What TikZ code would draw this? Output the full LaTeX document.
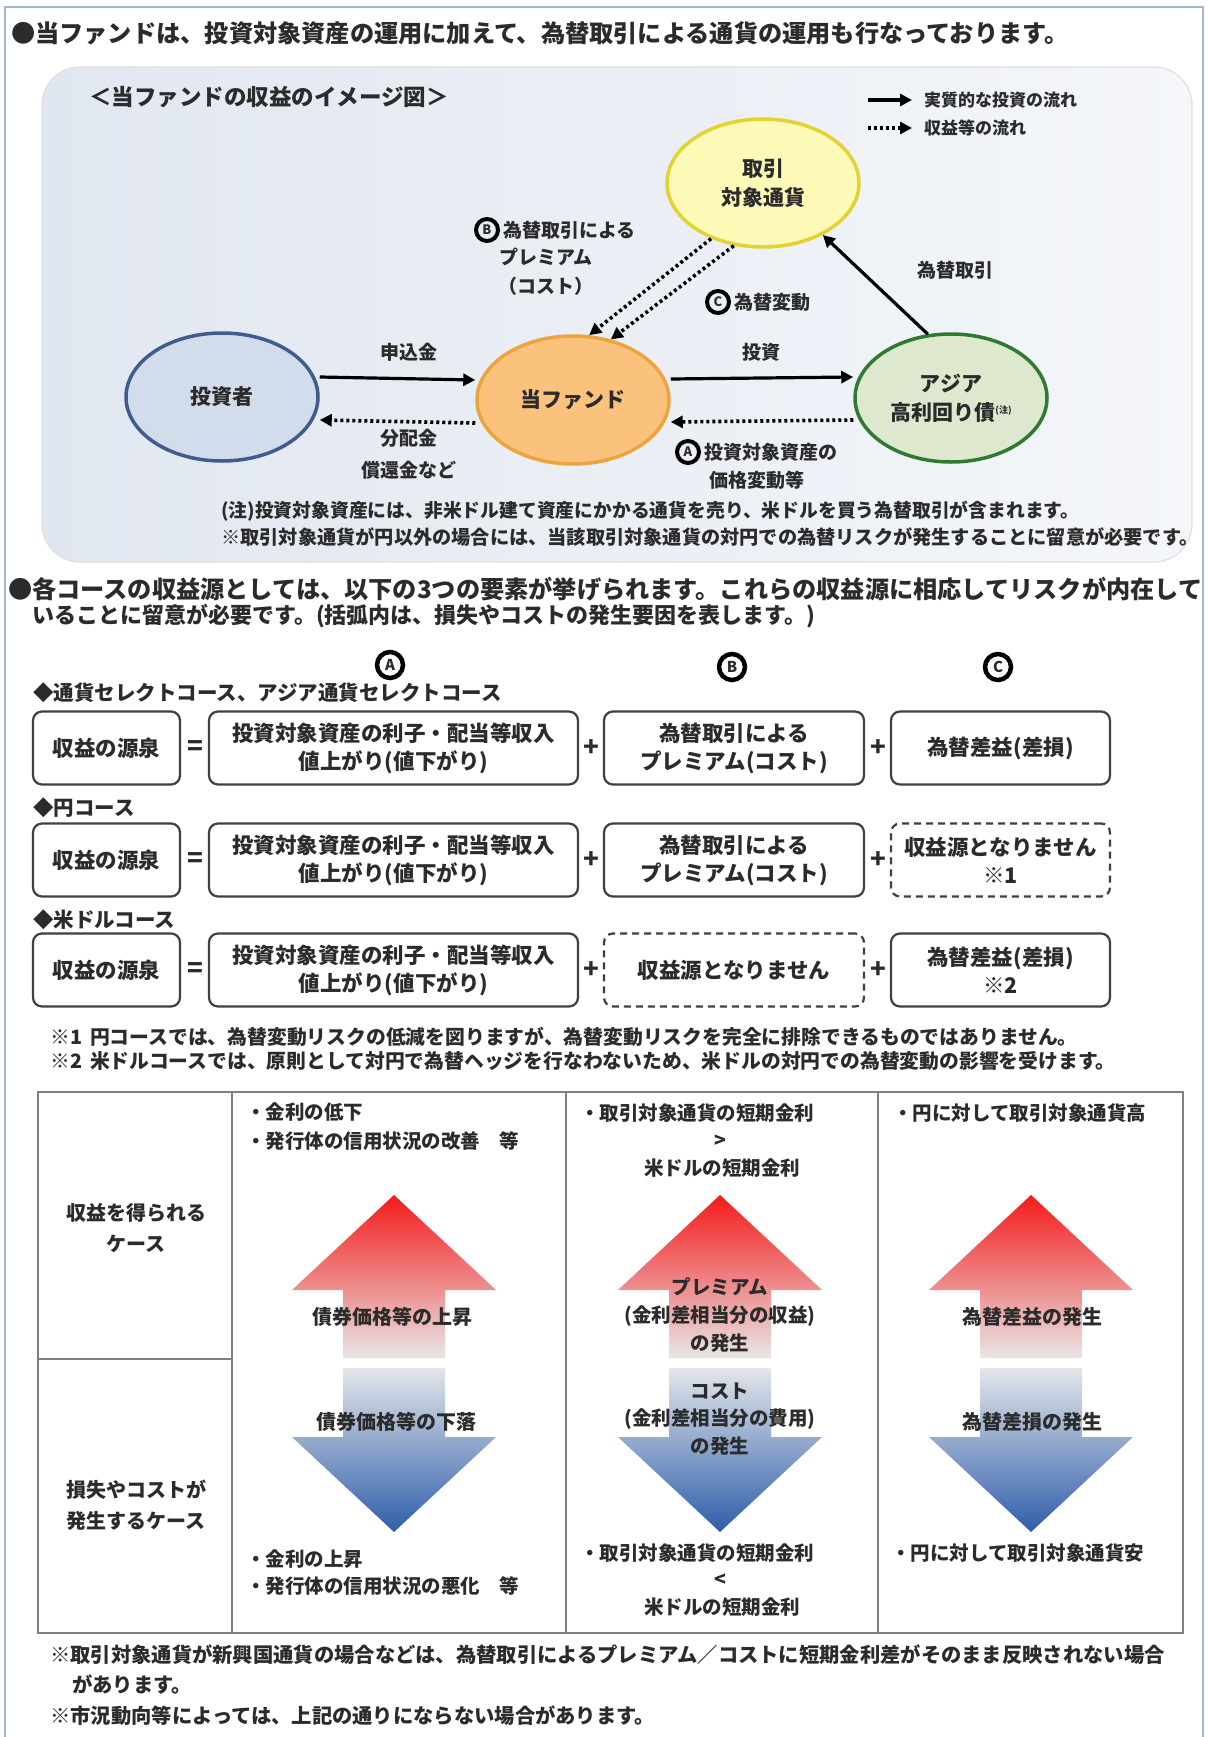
\documentclass[tikz,border=0pt]{standalone}
\usepackage{fontspec}
\setmainfont{Noto Sans CJK JP}
\usetikzlibrary{arrows.meta,shapes.geometric,positioning}

\definecolor{txt}{HTML}{2B2B2B}
\definecolor{frameblue}{HTML}{A3B5CC}
\definecolor{panelA}{HTML}{E1E7F0}
\definecolor{panelB}{HTML}{F4F6FA}
\definecolor{invfill}{HTML}{D3DCEB}
\definecolor{invline}{HTML}{3F5C8E}
\definecolor{fundfill}{HTML}{FAC27C}
\definecolor{fundline}{HTML}{EBA43E}
\definecolor{curfill}{HTML}{FDF9B6}
\definecolor{curline}{HTML}{E3D232}
\definecolor{bondfill}{HTML}{DEE8CE}
\definecolor{bondline}{HTML}{2E7A30}
\definecolor{upred}{HTML}{F51A1A}
\definecolor{uppink}{HTML}{F2B0B2}
\definecolor{upgray}{HTML}{E8E6E6}
\definecolor{dngray}{HTML}{E3E6EA}
\definecolor{dnmid}{HTML}{B9C3D8}
\definecolor{dnblue}{HTML}{2F5DA9}

\newcommand{\fsz}[2]{\fontsize{#1}{#2}\selectfont\bfseries}

\tikzset{
  party/.style={ellipse, minimum width=192pt, minimum height=128pt, inner sep=0pt,
    line width=3.5pt, align=center, font=\fsz{21}{29}},
  flow/.style={line width=3.2pt, -{Triangle[length=12pt,width=12pt]}},
  ret/.style={line width=3.6pt, dash pattern=on 3pt off 3pt, -{Triangle[length=12pt,width=12pt]}},
  lbl/.style={inner sep=0pt, align=center, font=\fsz{19}{29}},
  txtl/.style={inner sep=0pt, anchor=west, align=left},
  mk/.style={circle, draw=black, line width=4pt, minimum size=22pt, inner sep=0pt, font=\fsz{13}{13}},
  srcbox/.style={draw=black!75, rounded corners=9pt, line width=2.2pt, minimum height=73pt,
    inner sep=0pt, align=center, font=\fsz{21.5}{28}},
  nosrc/.style={srcbox, dash pattern=on 7pt off 5pt},
  opsign/.style={inner sep=0pt, font=\fsz{26}{26}},
  tbl/.style={draw=black!50, line width=1.6pt},
}

\begin{document}
\begin{tikzpicture}[x=1pt, y=-1pt, every node/.append style={text=txt}]
\useasboundingbox (0,0) rectangle (1208,1737);
\fill[white] (0,0) rectangle (1208,1737);
\draw[frameblue, line width=2.5pt] (5,1737) -- (5,7) -- (1203,7) -- (1203,1737);

% fund structure
\node[txtl, font=\fsz{24.2}{29}] (hd1) at (11,33) {●当ファンドは、投資対象資産の運用に加えて、為替取引による通貨の運用も行なっております。};

\shade[left color=panelA, right color=panelB, rounded corners=38pt] (42,67) rectangle (1192,562);
\draw[black!12, line width=1.2pt, rounded corners=38pt] (42,67) rectangle (1192,562);
\node[txtl, font=\fsz{22.5}{29}] (ttl) at (89,97) {＜当ファンドの収益のイメージ図＞};

\coordinate (lg1a) at (868,100);
\coordinate (lg1b) at (912,100);
\draw[flow] (lg1a) -- (lg1b);
\node[txtl, font=\fsz{17}{17}] (lg1) at (924,100) {実質的な投資の流れ};
\coordinate (lg2a) at (868,128);
\coordinate (lg2b) at (912,128);
\draw[ret] (lg2a) -- (lg2b);
\node[txtl, font=\fsz{17}{17}] (lg2) at (924,128) {収益等の流れ};

\node[party, draw=invline, fill=invfill] (inv) at (222,397) {投資者};
\node[party, draw=fundline, fill=fundfill] (fund) at (573,400) {当ファンド};
\node[party, draw=curline, fill=curfill] (cur) at (763,183) {取引\\対象通貨};
\node[party, draw=bondline, fill=bondfill] (bond) at (951,398) {アジア\\高利回り債\raisebox{7pt}{\fsz{9}{9}(注)}};

\draw[flow] ([yshift=20pt]inv.east) -- ([yshift=20pt]fund.west);
\draw[ret] ([yshift=-23pt]fund.west) -- ([yshift=-23pt]inv.east);
\draw[flow] ([yshift=21pt]fund.east) -- ([yshift=21pt]bond.west);
\draw[ret] ([yshift=-22pt]bond.west) -- ([yshift=-22pt]fund.east);
\draw[flow] (bond.110) -- (cur.319);
\draw[ret] (cur.227) -- (fund.76);
\draw[ret] (cur.245) -- (fund.58);

\node[lbl] (lsub) at (409,352) {申込金};
\node[lbl, font=\fsz{19}{32}] (ldist) at (409,454) {分配金\\償還金など};
\node[lbl] (linv) at (761,352) {投資};
\node[mk] (mka) at (688,452) {A};
\node[lbl, right=3pt of mka] (lpa) {投資対象資産の};
\node[lbl] (lpa2) at (757,480) {価格変動等};
\node[lbl] (lfx) at (955,270) {為替取引};
\node[mk] (mkc) at (718,302) {C};
\node[lbl, right=3pt of mkc] (lpc) {為替変動};
\node[mk] (mkb) at (487,230) {B};
\node[lbl, right=3pt of mkb] (lpb) {為替取引による};
\node[lbl, font=\fsz{19}{29}] (lpb2) at (546,272) {プレミアム\\（コスト）};

\node[txtl, font=\fsz{18.8}{26}] (nt1) at (221,511) {(注)投資対象資産には、非米ドル建て資産にかかる通貨を売り、米ドルを買う為替取引が含まれます。};
\node[txtl, font=\fsz{19.2}{26}] (nt2) at (221,537) {※取引対象通貨が円以外の場合には、当該取引対象通貨の対円での為替リスクが発生することに留意が必要です。};

% sources of return
\node[txtl, font=\fsz{24.2}{29}] (hd2) at (8,589) {●各コースの収益源としては、以下の3つの要素が挙げられます。これらの収益源に相応してリスクが内在して};
\node[txtl, font=\fsz{22}{29}] (hd2b) at (32,616) {いることに留意が必要です。(括弧内は、損失やコストの発生要因を表します。)};

\node[mk, minimum size=26pt, line width=4.5pt, font=\fsz{15}{15}] (mA) at (390,665) {A};
\node[mk, minimum size=26pt, line width=4.5pt, font=\fsz{15}{15}] (mB) at (732,667) {B};
\node[mk, minimum size=26pt, line width=4.5pt, font=\fsz{15}{15}] (mC) at (998,667) {C};

\node[txtl, font=\fsz{20.5}{26}] (crs1) at (33,693) {◆通貨セレクトコース、アジア通貨セレクトコース};
\node[srcbox, minimum width=147pt] (src1) at (106.5,748) {収益の源泉};
\node[opsign] (eq1) at (195,748) {=};
\node[srcbox, minimum width=369pt] (a1) at (393.5,748) {投資対象資産の利子・配当等収入\\値上がり(値下がり)};
\node[opsign] (pa1) at (591,748) {+};
\node[srcbox, minimum width=260pt] (b1) at (734,748) {為替取引による\\プレミアム(コスト)};
\node[opsign] (pb1) at (878,748) {+};
\node[srcbox, minimum width=219pt] (c1) at (1000.5,748) {為替差益(差損)};

\node[txtl, font=\fsz{20.5}{26}] (crs2) at (33,808) {◆円コース};
\node[srcbox, minimum width=147pt] (src2) at (106.5,860) {収益の源泉};
\node[opsign] (eq2) at (195,860) {=};
\node[srcbox, minimum width=369pt] (a2) at (393.5,860) {投資対象資産の利子・配当等収入\\値上がり(値下がり)};
\node[opsign] (pa2) at (591,860) {+};
\node[srcbox, minimum width=260pt] (b2) at (734,860) {為替取引による\\プレミアム(コスト)};
\node[opsign] (pb2) at (878,860) {+};
\node[nosrc, minimum width=219pt] (c2) at (1000.5,860) {収益源となりません\\※1};

\node[txtl, font=\fsz{20.5}{26}] (crs3) at (33,920) {◆米ドルコース};
\node[srcbox, minimum width=147pt] (src3) at (106.5,970) {収益の源泉};
\node[opsign] (eq3) at (195,970) {=};
\node[srcbox, minimum width=369pt] (a3) at (393.5,970) {投資対象資産の利子・配当等収入\\値上がり(値下がり)};
\node[opsign] (pa3) at (591,970) {+};
\node[nosrc, minimum width=260pt] (b3) at (734,970) {収益源となりません};
\node[opsign] (pb3) at (878,970) {+};
\node[srcbox, minimum width=219pt] (c3) at (1000.5,970) {為替差益(差損)\\※2};

\node[txtl, font=\fsz{19.8}{26}] (fn1) at (50,1037) {※1\hspace{8pt}円コースでは、為替変動リスクの低減を図りますが、為替変動リスクを完全に排除できるものではありません。};
\node[txtl, font=\fsz{19.8}{26}] (fn2) at (50,1061) {※2\hspace{8pt}米ドルコースでは、原則として対円で為替ヘッジを行なわないため、米ドルの対円での為替変動の影響を受けます。};

% cases table
\draw[tbl] (38,1092) rectangle (1183,1633);
\draw[tbl] (232,1092) -- (232,1633);
\draw[tbl] (566,1092) -- (566,1633);
\draw[tbl] (878,1092) -- (878,1633);
\draw[tbl] (38,1359) -- (232,1359);

\node[lbl, font=\fsz{20}{31}] (gain) at (136,1228) {収益を得られる\\ケース};
\node[lbl, font=\fsz{20}{31}] (loss) at (136,1505) {損失やコストが\\発生するケース};

\shade[top color=upred, middle color=uppink, bottom color=upgray] (394,1195) -- (496,1290) -- (445,1290) -- (445,1358) -- (343,1358) -- (343,1290) -- (292,1290) -- cycle;
\shade[top color=dngray, middle color=dnmid, bottom color=dnblue] (343,1368) -- (445,1368) -- (445,1437) -- (496,1437) -- (394,1532) -- (292,1437) -- (343,1437) -- cycle;
\shade[top color=upred, middle color=uppink, bottom color=upgray] (720,1195) -- (822,1290) -- (771,1290) -- (771,1358) -- (669,1358) -- (669,1290) -- (618,1290) -- cycle;
\shade[top color=dngray, middle color=dnmid, bottom color=dnblue] (669,1368) -- (771,1368) -- (771,1437) -- (822,1437) -- (720,1532) -- (618,1437) -- (669,1437) -- cycle;
\shade[top color=upred, middle color=uppink, bottom color=upgray] (1031,1195) -- (1133,1290) -- (1082,1290) -- (1082,1358) -- (980,1358) -- (980,1290) -- (929,1290) -- cycle;
\shade[top color=dngray, middle color=dnmid, bottom color=dnblue] (980,1368) -- (1082,1368) -- (1082,1437) -- (1133,1437) -- (1031,1532) -- (929,1437) -- (980,1437) -- cycle;

\node[txtl, font=\fsz{19.5}{29}] (bond1) at (246,1127) {・金利の低下\\・発行体の信用状況の改善　等};
\node[lbl, font=\fsz{20}{20}] (bond2) at (392,1317) {債券価格等の上昇};
\node[lbl, font=\fsz{20}{20}] (bond3) at (396,1422) {債券価格等の下落};
\node[txtl, font=\fsz{19.5}{27}] (bond4) at (246,1573) {・金利の上昇\\・発行体の信用状況の悪化　等};

\node[lbl, font=\fsz{19.5}{19.5}] (rate1) at (697,1113) {・取引対象通貨の短期金利};
\node[lbl, font=\fsz{19.5}{19.5}] (rate2) at (720,1141) {>};
\node[lbl, font=\fsz{19.5}{19.5}] (rate3) at (722,1168) {米ドルの短期金利};
\node[lbl, font=\fsz{19.5}{28}] (prem) at (720,1315) {プレミアム\\(金利差相当分の収益)\\の発生};
\node[lbl, font=\fsz{19.5}{27.5}] (cost) at (720,1419) {コスト\\(金利差相当分の費用)\\の発生};
\node[lbl, font=\fsz{19.5}{19.5}] (rate4) at (697,1553) {・取引対象通貨の短期金利};
\node[lbl, font=\fsz{19.5}{19.5}] (rate5) at (720,1580) {<};
\node[lbl, font=\fsz{19.5}{19.5}] (rate6) at (722,1607) {米ドルの短期金利};

\node[txtl, font=\fsz{19.5}{19.5}] (fx1) at (893,1113) {・円に対して取引対象通貨高};
\node[lbl, font=\fsz{20}{20}] (fx2) at (1032,1317) {為替差益の発生};
\node[lbl, font=\fsz{20}{20}] (fx3) at (1032,1422) {為替差損の発生};
\node[txtl, font=\fsz{19.5}{19.5}] (fx4) at (891,1553) {・円に対して取引対象通貨安};

\node[txtl, font=\fsz{20.3}{26}] (bn1) at (50,1655) {※取引対象通貨が新興国通貨の場合などは、為替取引によるプレミアム／コストに短期金利差がそのまま反映されない場合};
\node[txtl, font=\fsz{20.3}{26}] (bn2) at (72,1684) {があります。};
\node[txtl, font=\fsz{20.3}{26}] (bn3) at (50,1716) {※市況動向等によっては、上記の通りにならない場合があります。};
\end{tikzpicture}
\end{document}
